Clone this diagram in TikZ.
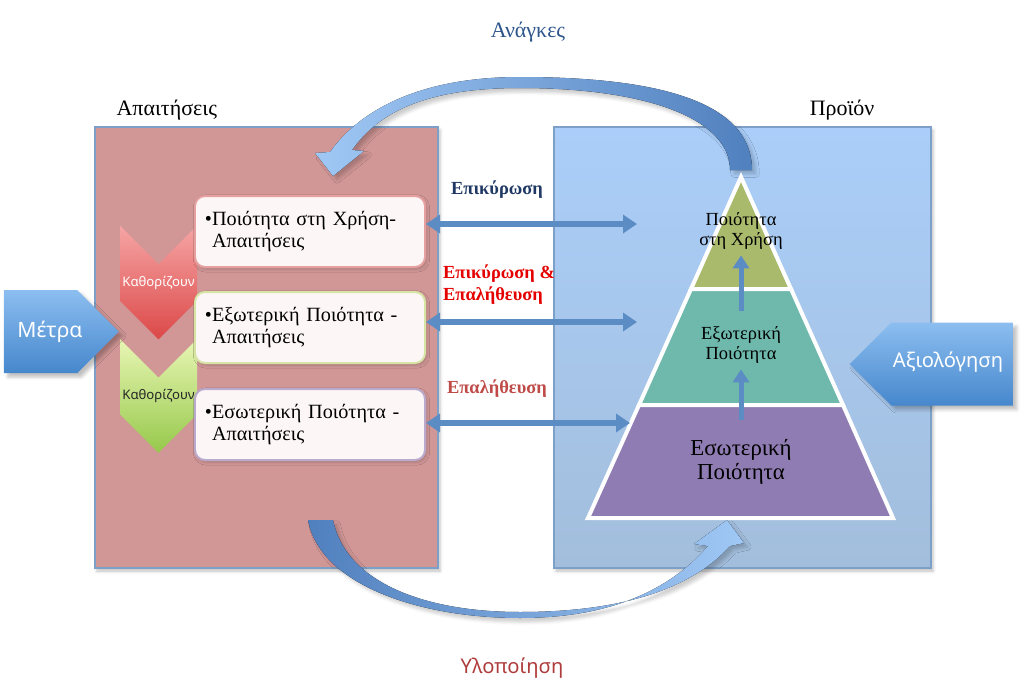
\documentclass[tikz,border=0pt]{standalone}
\usepackage{fontspec}
\setmainfont{Liberation Serif}
\setsansfont{Noto Sans}
\usepackage{tikz}
\usetikzlibrary{positioning}
\usetikzlibrary{shapes.symbols}
\usetikzlibrary{arrows.meta}
\usetikzlibrary{shadows.blur}
\definecolor{reqfill}{RGB}{209,150,150}
\definecolor{frameline}{RGB}{125,160,200}
\definecolor{prodtop}{RGB}{170,206,249}
\definecolor{prodbot}{RGB}{163,190,220}
\definecolor{arrblue}{RGB}{91,141,196}
\definecolor{arrlight}{RGB}{160,200,245}
\definecolor{arrdark}{RGB}{80,128,190}
\definecolor{usecol}{RGB}{170,186,108}
\definecolor{extcol}{RGB}{110,184,172}
\definecolor{intcol}{RGB}{143,124,178}
\definecolor{boxfill}{RGB}{253,246,246}
\definecolor{navyblue}{RGB}{31,56,100}
\definecolor{needcol}{RGB}{45,85,140}
\definecolor{implcol}{RGB}{175,60,60}
\definecolor{verifcol}{RGB}{190,75,72}
\definecolor{tagtop}{RGB}{140,190,240}
\definecolor{tagbot}{RGB}{70,135,205}

\begin{document}
\begin{tikzpicture}[x=0.2mm, y=-0.2mm,
  bigframe/.style = {rectangle,draw=frameline,line width=0.3mm,minimum height=88.2mm,
  blur shadow={shadow xshift=0.4mm,shadow yshift=-0.6mm,shadow opacity=25}},
  title/.style = {inner sep=0pt,font=\fontsize{12.5}{14}\selectfont},
  reqbox/.style = {rectangle,rounded corners=2mm,fill=boxfill,line width=0.4mm,
  text width=42mm,inner xsep=2mm,minimum height=14.2mm,align=left,
  font=\fontsize{11.5}{13}\selectfont,
  blur shadow={shadow xshift=0.3mm,shadow yshift=-0.4mm,shadow opacity=20}},
  chev/.style = {signal,signal to=south,signal from=north,minimum width=15.4mm,
  minimum height=21.8mm,inner sep=0pt,font=\sffamily\fontsize{7.5}{9}\selectfont},
  signtag/.style = {signal,minimum height=16.6mm,inner sep=0pt,top color=tagtop,
  bottom color=tagbot,blur shadow={shadow opacity=25}},
  tagtext/.style = {text=white,font=\sffamily\fontsize{12}{14}\selectfont},
  layer/.style = {align=center,font=\fontsize{10.5}{11}\selectfont},
  checklabel/.style = {align=left,font=\bfseries\fontsize{10.5}{12.5}\selectfont},
  twoway/.style = {draw=arrblue,line width=1.1mm,
  {Triangle[width=3.6mm,length=2.8mm]}-{Triangle[width=3.6mm,length=2.8mm]}},
  uparrow/.style = {draw=arrblue,line width=1mm,-{Triangle[width=3.2mm,length=2.6mm]}},
  cyclearrow/.style = {blur shadow={shadow opacity=20}}]
 \useasboundingbox (0,0) rectangle (1024,695);
 % the two frames
 \node[bigframe,fill=reqfill,minimum width=68.6mm] (req) at (266.5,347.5) {};
 \node[bigframe,top color=prodtop,bottom color=prodbot,minimum width=75.4mm] (prod) at (742.5,347.5) {};
 \node[title,above right=1.2mm and 4.4mm of req.north west] (reqt) {Απαιτήσεις};
 \node[title,above left=1.2mm and 11.4mm of prod.north east] (prodt) {Προϊόν};
 \node[title,text=needcol] (needs) at (528,32) {Ανάγκες};
 \node[title,text=implcol,font=\sffamily\fontsize{11.5}{14}\selectfont] (impl) at (512,668) {Υλοποίηση};
 % curved arrows
 \fill[cyclearrow,left color=arrlight,right color=arrdark]
  (730,170) -- (752,170) .. controls (752,110) and (680,77) .. (520,77)
  .. controls (420,77) and (360,110) .. (330,152)
  -- (315,153) -- (333,176) -- (364,151) -- (352,150)
  .. controls (380,110) and (430,88) .. (520,88)
  .. controls (650,88) and (730,120) .. (730,170) -- cycle;
 \fill[cyclearrow,left color=arrdark,right color=arrlight]
  (308,520) -- (333,520) .. controls (345,580) and (420,612) .. (520,612)
  .. controls (620,612) and (690,590) .. (730,546)
  -- (744,543) -- (727,520) -- (694,544) -- (708,546)
  .. controls (670,590) and (610,618) .. (520,618)
  .. controls (420,618) and (320,585) .. (308,520) -- cycle;
 % chevrons
 \node[chev,top color={rgb,255:red,246;green,165;blue,165},
  bottom color={rgb,255:red,220;green,72;blue,72},text=white] (det1) at (158.5,282.5) {Καθορίζουν};
 \node[chev,top color={rgb,255:red,232;green,246;blue,180},
  bottom color={rgb,255:red,150;green,200;blue,75},text=black!85] (det2) at (158.5,396) {Καθορίζουν};
 % requirement boxes
 \node[reqbox,draw={rgb,255:red,230;green,160;blue,160}] (q1) at (310,231.5) {•Ποιότητα στη Χρήση-\\\phantom{•}Απαιτήσεις};
 \node[reqbox,draw={rgb,255:red,214;green,228;blue,164}] (q2) at (310,327.5) {•Εξωτερική Ποιότητα -\\\phantom{•}Απαιτήσεις};
 \node[reqbox,draw={rgb,255:red,186;green,170;blue,206}] (q3) at (310,424.5) {•Εσωτερική Ποιότητα -\\\phantom{•}Απαιτήσεις};
 % side tags
 \node[signtag,signal to=east,minimum width=23mm] (metra) at (40.5,331.5) {};
 \node[tagtext] (metrat) at (50,331.5) {Μέτρα};
 \node[signtag,signal to=west,minimum width=32.6mm] (evalt) at (952,364) {};
 \node[tagtext,font=\sffamily\fontsize{11.5}{14}\selectfont] (evaltt) at (948,362) {Αξιολόγηση};
 % pyramid
 \coordinate (apex) at (741,177);
 \coordinate (l1) at (691,289);
 \coordinate (r1) at (791,289);
 \coordinate (l2) at (639,405);
 \coordinate (r2) at (843,405);
 \coordinate (bl) at (588,518);
 \coordinate (br) at (893,518);
 \filldraw[draw=white,line width=0.8mm,fill=usecol] (apex) -- (r1) -- (l1) -- cycle;
 \filldraw[draw=white,line width=0.8mm,fill=extcol] (l1) -- (r1) -- (r2) -- (l2) -- cycle;
 \filldraw[draw=white,line width=0.8mm,fill=intcol] (l2) -- (r2) -- (br) -- (bl) -- cycle;
 \node[layer] (useq) at (741,231) {Ποιότητα\\στη Χρήση};
 \node[layer] (extq) at (741,345) {Εξωτερική\\Ποιότητα};
 \node[layer,font=\fontsize{13}{13.5}\selectfont] (intq) at (741,462) {Εσωτερική\\Ποιότητα};
 \draw[uparrow,shorten <=2.6mm] (intq) -- (extq);
 \draw[uparrow,shorten <=2mm] (extq) -- (useq);
 % links between requirements and product
 \coordinate (u1) at (637,224);
 \coordinate (u2) at (637,322);
 \coordinate (u3) at (630,423);
 \draw[twoway] (q1.east |- u1) -- (u1);
 \draw[twoway] (q2.east |- u2) -- (u2);
 \draw[twoway] (q3.east |- u3) -- (u3);
 \node[checklabel,text=navyblue] (lab1) at (497,190) {Επικύρωση};
 \node[checklabel,text=red!90!black] (lab2) at (499,285) {Επικύρωση \&\\Επαλήθευση};
 \node[checklabel,text=verifcol] (lab3) at (497,389) {Επαλήθευση};
\end{tikzpicture}
\end{document}
